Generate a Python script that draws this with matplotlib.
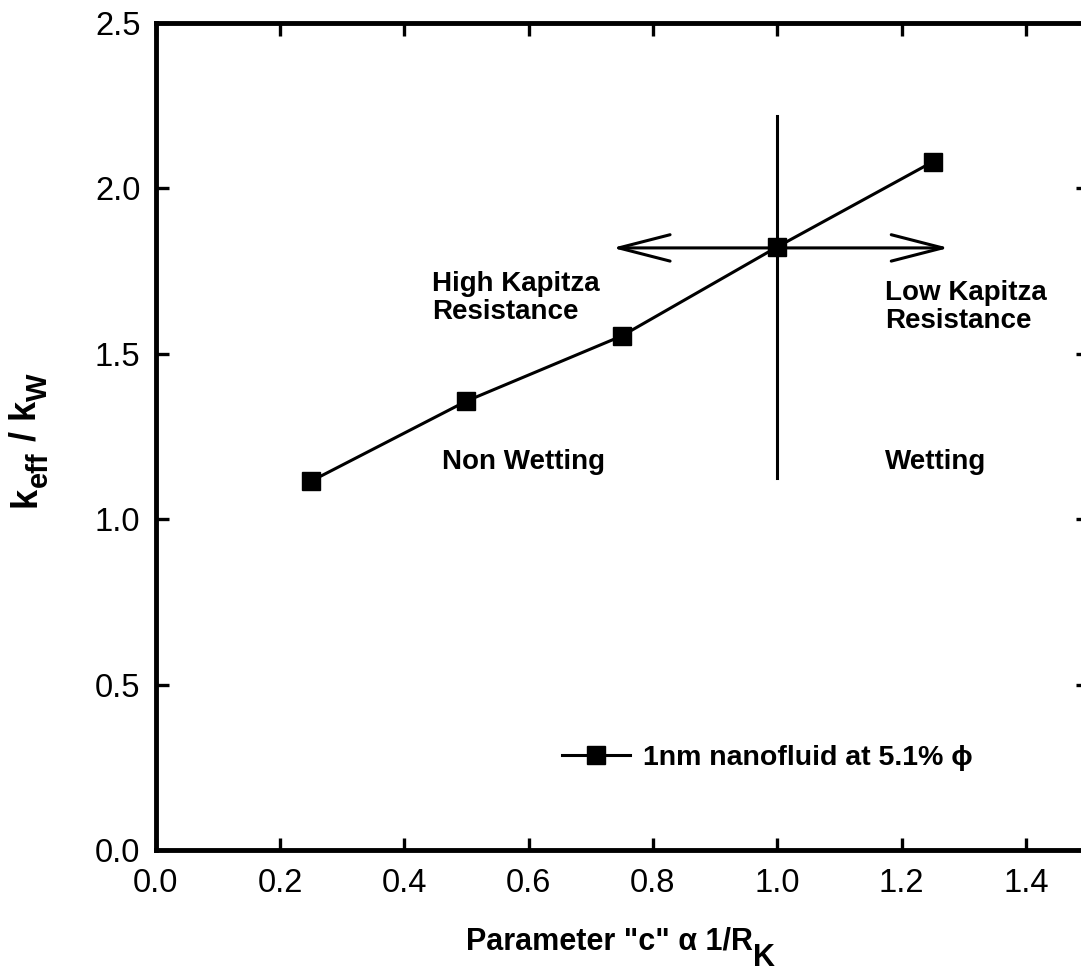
import matplotlib
matplotlib.use("Agg")
import matplotlib.pyplot as plt

plt.rcParams['font.family'] = ['Liberation Sans', 'DejaVu Sans']

# data
c_param = [0.25, 0.50, 0.75, 1.00, 1.25]
k_ratio = [1.115, 1.357, 1.554, 1.823, 2.08]
series_label = '1nm nanofluid at 5.1% ϕ'
x_ticks = [0.0, 0.2, 0.4, 0.6, 0.8, 1.0, 1.2, 1.4]
y_ticks = [0.0, 0.5, 1.0, 1.5, 2.0, 2.5]

fig = plt.figure(figsize=(10.81, 9.77), dpi=100)
ax = fig.add_axes([0.144, 0.130, 0.8625, 0.8465])
ax.set_xlim(0, 1.5)
ax.set_ylim(0, 2.5)

ax.plot(c_param, k_ratio, '-s', color='black', lw=2.2, ms=12.5, label=series_label)

# divider and arrows
ax.plot([1.0, 1.0], [1.125, 2.22], color='black', lw=2.2)
arrow_kw = dict(arrowstyle='->,head_length=3.7,head_width=0.95', color='black', lw=2.2,
                shrinkA=0, shrinkB=0)
ax.annotate('', xy=(0.735, 1.82), xytext=(1.0, 1.82), arrowprops=arrow_kw)
ax.annotate('', xy=(1.276, 1.82), xytext=(1.0, 1.82), arrowprops=arrow_kw)

fs = 20
ax.text(0.444, 1.669, 'High Kapitza\nResistance', fontsize=fs, fontweight='bold',
        ha='left', va='center', linespacing=1.1)
ax.text(1.173, 1.641, 'Low Kapitza\nResistance', fontsize=fs, fontweight='bold',
        ha='left', va='center', linespacing=1.1)
ax.text(0.460, 1.173, 'Non Wetting', fontsize=fs, fontweight='bold', ha='left', va='center')
ax.text(1.173, 1.173, 'Wetting', fontsize=fs, fontweight='bold', ha='left', va='center')

leg = ax.legend(loc='center left', bbox_to_anchor=(0.4356, 0.1112), frameon=False,
                prop={'weight': 'bold', 'size': 20.5}, handlelength=2.4, handletextpad=0.45,
                borderpad=0, borderaxespad=0)

ax.set_xticks(x_ticks)
ax.set_yticks(y_ticks)
ax.set_xticklabels([f'{v:.1f}' for v in x_ticks])
ax.set_yticklabels([f'{v:.1f}' for v in y_ticks])
ax.tick_params(direction='in', length=9, width=2.4, labelsize=23.5, top=True, right=True)
ax.tick_params(axis='x', pad=13)
ax.tick_params(axis='y', pad=11)
for s in ax.spines.values():
    s.set_linewidth(3.5)

# x label with large lowered subscript
ax.set_xlabel('Parameter "c" α 1/R', fontsize=22, fontweight='bold', ha='left', va='baseline')
ax.xaxis.set_label_coords((466 - 156) / 932.4, (850 - 950) / 827.0)
ax.annotate('K', xy=(1, 0), xycoords=ax.xaxis.label, xytext=(0.5, -6.5),
            textcoords='offset points', fontsize=22, fontweight='bold',
            ha='left', va='baseline')

# y label built from pieces (rotated)
ax.set_ylabel('k', fontsize=26, fontweight='bold', rotation=90, ha='right', va='bottom')
ax.yaxis.label.set_rotation_mode('default')
ax.yaxis.set_label_coords((44 - 156) / 932.4, (850 - 507) / 827.0)
sub = 6.5
t1 = ax.annotate('eff', xy=(1, 1), xycoords=ax.yaxis.label, xytext=(sub, 0),
                 textcoords='offset points', fontsize=21, fontweight='bold',
                 rotation=90, ha='right', va='bottom')
t2 = ax.annotate(' / k', xy=(1, 1), xycoords=t1, xytext=(-sub, 0),
                 textcoords='offset points', fontsize=26, fontweight='bold',
                 rotation=90, ha='right', va='bottom')
ax.annotate('W', xy=(1, 1), xycoords=t2, xytext=(sub, 0),
            textcoords='offset points', fontsize=21, fontweight='bold',
            rotation=90, ha='right', va='bottom')

fig.savefig('out.png', dpi=100)
